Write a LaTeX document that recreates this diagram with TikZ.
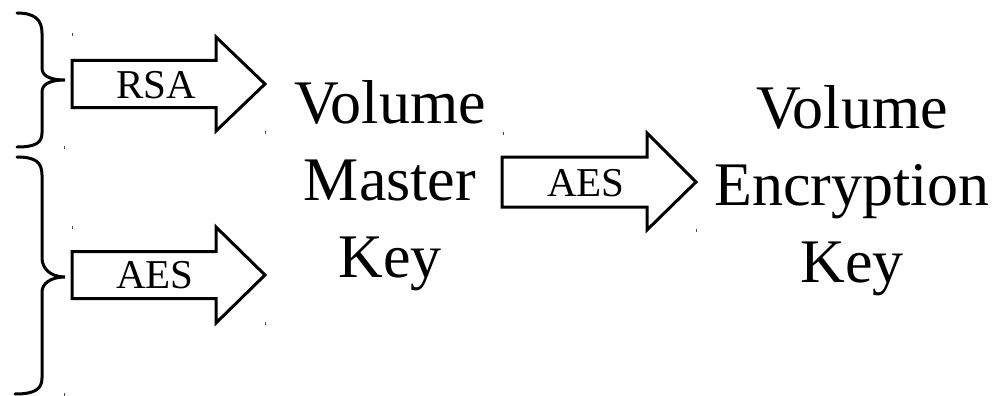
\documentclass[tikz,border=0pt]{standalone}
\usepackage{fontspec}
\setmainfont{Liberation Serif}
\begin{document}
\begin{tikzpicture}[x=1pt,y=-1pt,
  outline/.style={draw=black,line width=3pt,line join=miter},
  bracepath/.style={draw=black,line width=3pt,line cap=round},
  lbl/.style={font=\fontsize{41}{41}\selectfont,inner sep=0pt,anchor=base},
  big/.style={font=\fontsize{62}{77}\selectfont,align=center,inner sep=0pt},
  tick/.style={draw=black!70,line width=0.8pt}]
\useasboundingbox (0,0) rectangle (1001,396);
% braces
\path[bracepath] (17,13) .. controls (35,13) and (42,20) .. (42,33)
  -- (42,68) .. controls (42,76) and (50,80) .. (65,80)
  .. controls (50,80) and (42,84) .. (42,92)
  -- (42,133) .. controls (42,143) and (35,147) .. (17,147);
\path[bracepath] (17,157) .. controls (35,157) and (42,162) .. (42,175)
  -- (42,258) .. controls (42,268) and (50,277) .. (65,277)
  .. controls (50,277) and (42,284) .. (42,292)
  -- (42,378) .. controls (42,389) and (35,394) .. (15,394);
% arrows
\path[outline] (72,60.5) -- (216,60.5) -- (216,37) -- (265,84) -- (216,131) -- (216,107.5) -- (72,107.5) -- cycle;
\node[lbl] (rsa) at (156,98) {RSA};
\path[outline] (72,251.5) -- (216,251.5) -- (216,227) -- (265,275) -- (216,323) -- (216,298.5) -- (72,298.5) -- cycle;
\node[lbl] (aes1) at (155,288) {AES};
\path[outline] (502,157) -- (647,157) -- (647,133) -- (696,182) -- (647,230) -- (647,207) -- (502,207) -- cycle;
\node[lbl] (aes2) at (586,196) {AES};
% texts
\node[big] (vmk) at (390,186) {Volume\\Master\\Key};
\node[big] (vek) at (852,191) {Volume\\Encryption\\Key};
% ticks
\foreach \x/\y in {72.7/35,64/147,265/132,72.7/227,265/323,64/394,503/133,696/230}
  \draw[tick] (\x,\y-1.5) -- (\x,\y+1.5);
\end{tikzpicture}
\end{document}
